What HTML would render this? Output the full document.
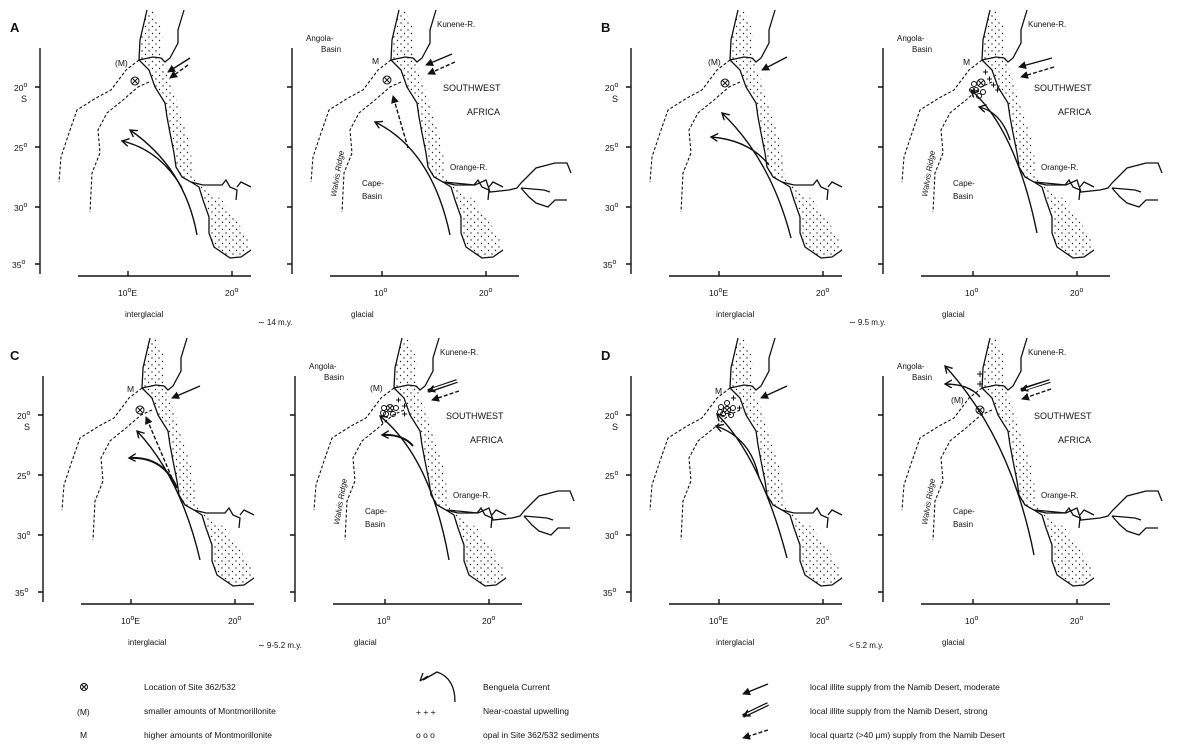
<!DOCTYPE html>
<html><head><meta charset="utf-8"><style>
html,body{margin:0;padding:0;background:#fff}
svg{display:block}
text{font-family:"Liberation Sans",sans-serif;fill:#111}
</style></head><body>
<svg width="1188" height="756" viewBox="0 0 1188 756" xmlns="http://www.w3.org/2000/svg">
<defs>
<pattern id="dots" width="7" height="7" patternUnits="userSpaceOnUse">
<circle cx="2" cy="2" r="0.7" fill="#222"/><circle cx="5.5" cy="5.5" r="0.7" fill="#222"/>
</pattern>
<marker id="ah" markerWidth="9" markerHeight="9" refX="7" refY="4" orient="auto" markerUnits="userSpaceOnUse">
<path d="M0,0 L7,4 L0,8" fill="none" stroke="#111" stroke-width="1.4"/>
</marker>
<marker id="af" markerWidth="9" markerHeight="9" refX="7" refY="4" orient="auto" markerUnits="userSpaceOnUse">
<path d="M0,0 L8,4 L0,8 Z" fill="#111"/>
</marker>
<g id="base" fill="none" stroke="#111" stroke-width="1.3">
<path d="M147,10 L140,40 L139,60 L149,70 L155,87 L165,103 L167,117 L170,133 L174,153 L176,167 L182,177 L191,182 L199,187 L203,200 L209,217 L209,233 L214,247 L230,258 L241,257 L251,250 L251,248 L245,233 L222,200 L195,180 L192,160 L188,137 L180,110 L169,77 L161,53 L163,33 L153,10 Z" fill="url(#dots)" stroke="none"/>
<path d="M147,10 L140,40 L139,60 L149,70 L155,87 L165,103 L167,117 L170,133 L174,153 L176,167 L182,177 L191,182 L199,187 L203,200 L209,217 L209,233 L214,247 L230,258 L241,257 L251,250"/>
<path d="M139,60 L153,57 L161,58 L165,62 L170,58 L178,43 L178,30 L184,10"/>
<path d="M191,182 L203,185 L222,185 L226,180 L230,187 L237,190 L236,200 M237,187 L241,182 L251,187"/>
<path d="M139,60 L126,70 L111,90 L96,98 L77,110 L69,133 L61,157 L59,182" stroke-dasharray="3,2" stroke-width="1.1"/>
<path d="M149,82 L138,87 L123,100 L107,113 L98,130 L100,153 L92,173 L90,212" stroke-dasharray="3,2" stroke-width="1.1"/>
</g>
<g id="axL" fill="none" stroke="#111" stroke-width="1.4">
<path d="M40,48 L40,274 M35,87 L40,87 M35,147 L40,147 M35,207 L40,207 M35,264 L40,264 M78,276 L251,276 M128,276 L128,271 M232,276 L232,271"/>
</g>
<g id="axR" fill="none" stroke="#111" stroke-width="1.4">
<path d="M292,48 L292,274 M287,87 L292,87 M287,147 L292,147 M287,207 L292,207 M287,264 L292,264 M330,276 L519,276 M382,276 L382,271 M486,276 L486,271"/>
</g>
<g id="orangeX" fill="none" stroke="#111" stroke-width="1.3">
<path d="M444,182 L475,185 L486,180 L490,192 L509,190 L517,188 L521,183 L536,168 L555,163 L567,163 L571,173 M521,188 L529,197 L536,203 L548,207 L555,200 L567,200 M521,188 L544,190 L550,192"/>
</g>
</defs>

<g id="pA">
<use href="#base"/><use href="#base" x="252"/><use href="#axL"/><use href="#axR"/><use href="#orangeX"/>
</g>
<use href="#pA" x="591" y="0"/>
<use href="#pA" x="3" y="328"/>
<use href="#pA" x="591" y="328"/>

<g font-size="8.5">
<text x="10" y="32" font-size="13" font-weight="bold">A</text>
<text x="601" y="32" font-size="13" font-weight="bold">B</text>
<text x="10" y="360" font-size="13" font-weight="bold">C</text>
<text x="601" y="360" font-size="13" font-weight="bold">D</text>
</g>

<g id="lbls" font-size="8.5">
<text x="14" y="91">20<tspan dy="-4" font-size="7">o</tspan></text>
<text x="21" y="102" font-size="9">S</text>
<text x="14" y="151">25<tspan dy="-4" font-size="7">o</tspan></text>
<text x="14" y="211">30<tspan dy="-4" font-size="7">o</tspan></text>
<text x="12" y="268">35<tspan dy="-4" font-size="7">o</tspan></text>
<text x="118" y="296">10<tspan dy="-4" font-size="7">o</tspan><tspan dy="4">E</tspan></text>
<text x="225" y="296">20<tspan dy="-4" font-size="7">o</tspan></text>
<text x="374" y="296">10<tspan dy="-4" font-size="7">o</tspan></text>
<text x="479" y="296">20<tspan dy="-4" font-size="7">o</tspan></text>
<text x="125" y="317" font-size="8">interglacial</text>
<text x="351" y="317" font-size="8">glacial</text>
<text x="306" y="41" font-size="8">Angola-</text>
<text x="321" y="52" font-size="8">Basin</text>
<text x="437" y="27" font-size="8">Kunene-R.</text>
<text x="443" y="91" font-size="9">SOUTHWEST</text>
<text x="467" y="115" font-size="9">AFRICA</text>
<text x="450" y="170" font-size="8">Orange-R.</text>
<text x="362" y="186" font-size="8">Cape-</text>
<text x="362" y="199" font-size="8">Basin</text>
<text x="0" y="0" font-size="8" font-style="italic" transform="translate(336,197) rotate(-80)">Walvis Ridge</text>
</g>
<use href="#lbls" x="591" y="0"/>
<use href="#lbls" x="3" y="328"/>
<use href="#lbls" x="591" y="328"/>

<g font-size="8">
<text x="258" y="325">∼ 14 m.y.</text>
<text x="849" y="325">∼ 9.5 m.y.</text>
<text x="258" y="648">∼ 9-5.2 m.y.</text>
<text x="849" y="648">&lt; 5.2 m.y.</text>
</g>

<!-- Panel A -->
<g fill="none" stroke="#111" stroke-width="1.4">
<path d="M197,235 Q185,168 130,130" marker-end="url(#ah)"/>
<path d="M182,188 Q160,150 122,141" marker-end="url(#ah)"/>
<path d="M190,58 L168,72" marker-end="url(#af)"/>
<path d="M188,65 L170,78" stroke-dasharray="4,2" marker-end="url(#af)"/>
<path d="M450,235 Q432,150 375,122" marker-end="url(#ah)"/>
<path d="M408,148 L393,96" stroke-dasharray="4,2" marker-end="url(#af)"/>
<path d="M452,54 L426,65" marker-end="url(#af)"/>
<path d="M455,62 L428,74" stroke-dasharray="4,2" marker-end="url(#af)"/>
</g>
<g font-size="8.5"><text x="115" y="66">(M)</text><text x="372" y="64">M</text></g>
<g fill="none" stroke="#111" stroke-width="1"><circle cx="135" cy="81" r="4"/><path d="M132,78 L138,84 M138,78 L132,84"/><circle cx="387" cy="80" r="4"/><path d="M384,77 L390,83 M390,77 L384,83"/></g>

<!-- Panel B -->
<g transform="translate(591,0)">
<g fill="none" stroke="#111" stroke-width="1.4">
<path d="M200,238 Q180,160 131,113" marker-end="url(#ah)"/>
<path d="M178,165 Q158,140 120,137" marker-end="url(#ah)"/>
<path d="M196,57 L171,70" marker-end="url(#af)"/>
<path d="M446,233 Q425,130 380,90" marker-end="url(#ah)"/>
<path d="M419,140 Q410,112 388,107" marker-end="url(#ah)"/>
<path d="M461,58 L428,67" marker-end="url(#af)"/>
<path d="M463,67 L430,77" stroke-dasharray="4,2" marker-end="url(#af)"/>
</g>
<g font-size="8.5"><text x="117" y="65">(M)</text><text x="372" y="65">M</text></g>
<g fill="none" stroke="#111" stroke-width="1"><circle cx="134" cy="83" r="4"/><path d="M131,80 L137,86 M137,80 L131,86"/>
<circle cx="390" cy="83" r="4"/><path d="M387,80 L393,86 M393,80 L387,86"/>
<circle cx="383" cy="84" r="2.5"/><circle cx="385" cy="90" r="2.5"/><circle cx="392" cy="92" r="2.5"/><circle cx="388" cy="96" r="2.5"/><circle cx="381" cy="90" r="2.5"/>
<path d="M392,72 h5 M394.5,69.5 v5 M396,79 h5 M398.5,76.5 v5 M400,85 h5 M402.5,82.5 v5 M404,90 h5 M406.5,87.5 v5"/></g>
</g>

<!-- Panel C -->
<g transform="translate(3,328)">
<g fill="none" stroke="#111" stroke-width="1.4">
<path d="M197,232 Q178,150 134,103" marker-end="url(#ah)"/>
<path d="M174,160 Q160,128 126,130" marker-end="url(#ah)" stroke-width="2"/>
<path d="M169,150 L143,89" stroke-dasharray="4,2" marker-end="url(#af)"/>
<path d="M197,58 L169,70" marker-end="url(#af)"/>
<path d="M446,232 Q428,130 377,88" marker-end="url(#ah)"/>
<path d="M410,118 Q400,106 379,107" marker-end="url(#ah)" stroke-width="2"/>
<path d="M456,63 L429,72" stroke-dasharray="4,2" marker-end="url(#af)"/>
<path d="M454,53 L425,63" stroke-width="4" marker-end="url(#af)"/>
<path d="M454,53 L430,61" stroke="#fff" stroke-width="1.5"/>
</g>
<g font-size="8.5"><text x="124" y="64">M</text><text x="367" y="63">(M)</text></g>
<g fill="none" stroke="#111" stroke-width="1"><circle cx="137" cy="82" r="4"/><path d="M134,79 L140,85 M140,79 L134,85"/>
<circle cx="387" cy="80" r="3.5"/><path d="M384.5,77.5 L389.5,82.5 M389.5,77.5 L384.5,82.5"/>
<circle cx="381" cy="80" r="2.5"/><circle cx="383" cy="86" r="2.5"/><circle cx="390" cy="86" r="2.5"/><circle cx="393" cy="80" r="2.5"/><circle cx="380" cy="85" r="2.5"/>
<path d="M393,72 h5 M395.5,69.5 v5 M399,78 h5 M401.5,75.5 v5 M399,86 h5 M401.5,83.5 v5"/></g>
</g>

<!-- Panel D -->
<g transform="translate(591,328)">
<g fill="none" stroke="#111" stroke-width="1.4">
<path d="M196,230 Q170,130 126,86" marker-end="url(#ah)"/>
<path d="M168,150 Q160,110 125,98" marker-end="url(#ah)"/>
<path d="M196,58 L170,70" marker-end="url(#af)"/>
<path d="M443,227 Q420,110 354,38" marker-end="url(#ah)"/>
<path d="M389,69 Q378,56 354,56" marker-end="url(#ah)"/>
<path d="M460,61 L431,71" stroke-dasharray="4,2" marker-end="url(#af)"/>
<path d="M459,53 L430,62" stroke-width="4" marker-end="url(#af)"/>
<path d="M459,53 L435,61" stroke="#fff" stroke-width="1.5"/>
</g>
<g font-size="8.5"><text x="124" y="66">M</text><text x="360" y="75">(M)</text></g>
<g fill="none" stroke="#111" stroke-width="1">
<circle cx="136" cy="82" r="3.5"/><path d="M133.5,79.5 L138.5,84.5 M138.5,79.5 L133.5,84.5"/>
<circle cx="130" cy="79" r="2.5"/><circle cx="132" cy="86" r="2.5"/><circle cx="140" cy="87" r="2.5"/><circle cx="142" cy="80" r="2.5"/><circle cx="136" cy="75" r="2.5"/><circle cx="129" cy="84" r="2.5"/>
<path d="M140,70 h5 M142.5,67.5 v5 M146,80 h5 M148.5,77.5 v5"/>
<circle cx="389" cy="82" r="4"/><path d="M386,79 L392,85 M392,79 L386,85"/>
<path d="M386,46 h6 M389,43 v6 M386,56 h6 M389,53 v6"/></g>
</g>

<!-- Legend -->
<g font-size="8.5">
<g fill="none" stroke="#111" stroke-width="1"><circle cx="84" cy="687" r="3.5"/><path d="M81.5,684.5 L86.5,689.5 M86.5,684.5 L81.5,689.5"/></g>
<text x="77" y="715">(M)</text>
<text x="80" y="738">M</text>
<text x="144" y="690">Location of Site 362/532</text>
<text x="144" y="714">smaller amounts of Montmorillonite</text>
<text x="144" y="738">higher amounts of Montmorillonite</text>
<path d="M455,702 Q455,678 437,672 L423,680" fill="none" stroke="#111" stroke-width="1.3"/>
<path d="M420,681 l8,-5 M420,681 l3,-8" fill="none" stroke="#111" stroke-width="1.3"/>
<text x="416" y="715">+ + +</text>
<text x="416" y="738">o o o</text>
<text x="483" y="690">Benguela Current</text>
<text x="483" y="714">Near-coastal upwelling</text>
<text x="483" y="738">opal in Site 362/532 sediments</text>
<g fill="none" stroke="#111" stroke-width="1.4">
<path d="M768,684 L743,694" marker-end="url(#af)"/>
<path d="M768,704 L743,716" stroke-width="4" marker-end="url(#af)"/>
<path d="M768,704 L747,714" stroke="#fff" stroke-width="1.5"/>
<path d="M768,730 L743,738" stroke-dasharray="4,2" marker-end="url(#af)"/>
</g>
<text x="810" y="690">local illite supply from the Namib Desert, moderate</text>
<text x="810" y="714">local illite supply from the Namib Desert, strong</text>
<text x="810" y="738">local quartz (&gt;40 µm) supply from the Namib Desert</text>
</g>
</svg>
</body></html>
